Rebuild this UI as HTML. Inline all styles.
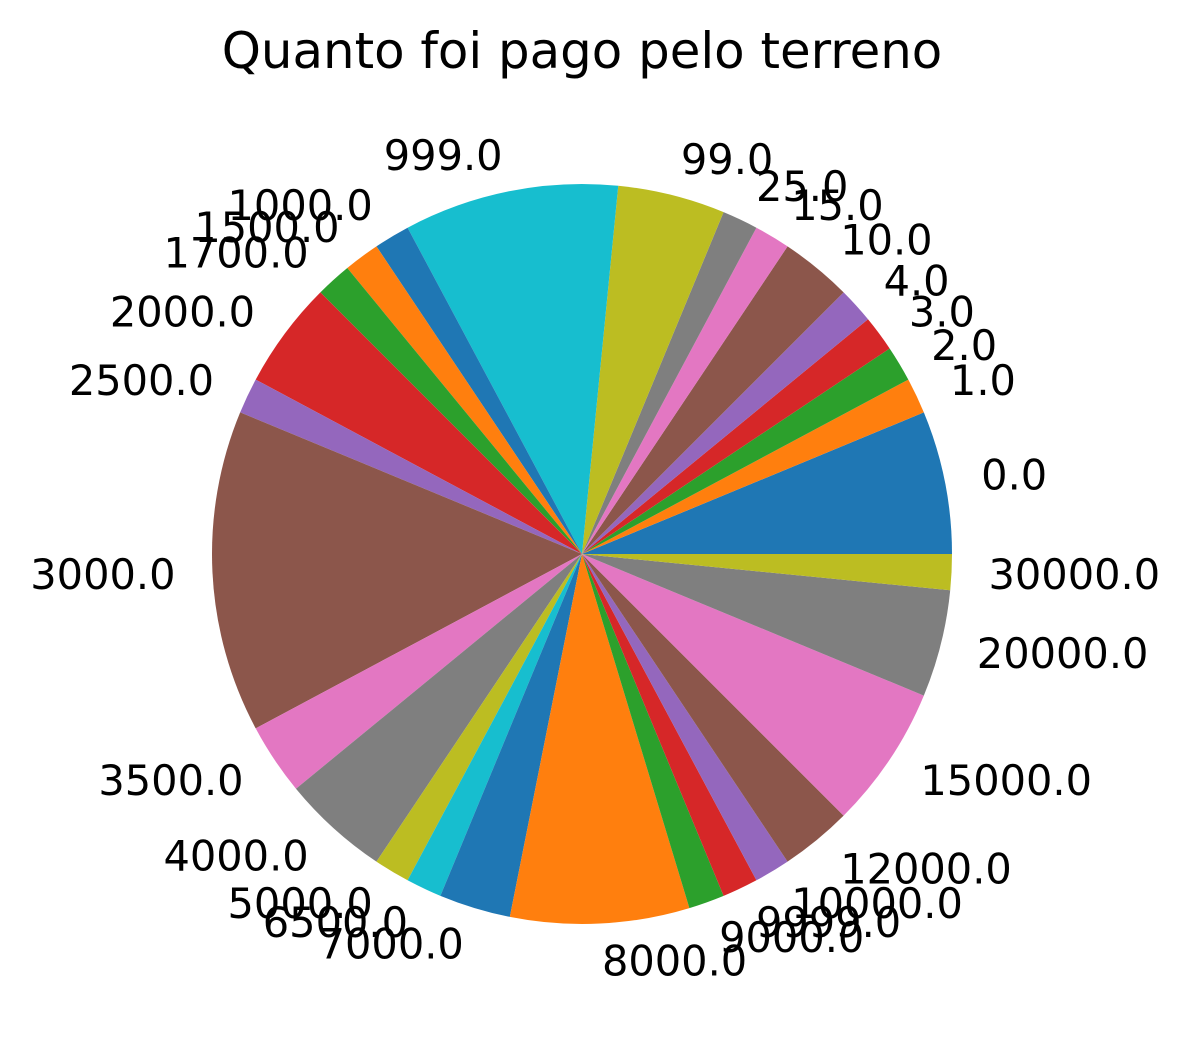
<!DOCTYPE html>
<html><head><meta charset="utf-8"><style>
html,body{margin:0;padding:0;background:#fff}
svg{display:block}
text{font-family:"DejaVu Sans","Liberation Sans",sans-serif;fill:#000}
</style></head><body>
<svg id="chart" width="1190" height="1047" viewBox="0 0 1190 1047" xmlns="http://www.w3.org/2000/svg">
<text x="582" y="68" text-anchor="middle" font-size="49.8">Quanto foi pago pelo terreno</text>
<g id="slices"></g>
<g id="labels"></g>
</svg>
<script>
const categories = ["0.0","1.0","2.0","3.0","4.0","10.0","15.0","25.0","99.0","999.0","1000.0","1500.0","1700.0","2000.0","2500.0","3000.0","3500.0","4000.0","5000.0","6500.0","7000.0","8000.0","9000.0","9999.0","10000.0","12000.0","15000.0","20000.0","30000.0"];
const counts = [4,1,1,1,1,2,1,1,3,6,1,1,1,3,1,9,2,3,1,1,2,5,1,1,1,2,4,3,1];
const palette = ["#1f77b4","#ff7f0e","#2ca02c","#d62728","#9467bd","#8c564b","#e377c2","#7f7f7f","#bcbd22","#17becf"];

const cx = 582, cy = 554, r = 370;
const ns = "http://www.w3.org/2000/svg";
const total = counts.reduce((a,b)=>a+b,0);
const gS = document.getElementById('slices');
const gL = document.getElementById('labels');
function pt(deg, rad){ const a = deg*Math.PI/180; return [cx + rad*Math.cos(a), cy - rad*Math.sin(a)]; }
let start = 0;
counts.forEach((c,i)=>{
  const sweep = c/total*360;
  const end = start + sweep;
  const p0 = pt(start,r), p1 = pt(end,r);
  const large = sweep>180?1:0;
  const path = document.createElementNS(ns,'path');
  path.setAttribute('d',`M${cx},${cy} L${p0[0]},${p0[1]} A${r},${r} 0 ${large} 0 ${p1[0]},${p1[1]} Z`);
  path.setAttribute('fill',palette[i%10]);
  
  
  gS.appendChild(path);
  const mid = start + sweep/2;
  const lp = pt(mid, r*1.1);
  const t = document.createElementNS(ns,'text');
  t.setAttribute('x',lp[0]);
  t.setAttribute('y',lp[1]+15);
  t.setAttribute('font-size','41.5');
  t.setAttribute('text-anchor', Math.cos(mid*Math.PI/180) >= 0 ? 'start' : 'end');
  t.textContent = categories[i];
  
  
  gL.appendChild(t);
  start = end;
});
</script>
</body></html>
